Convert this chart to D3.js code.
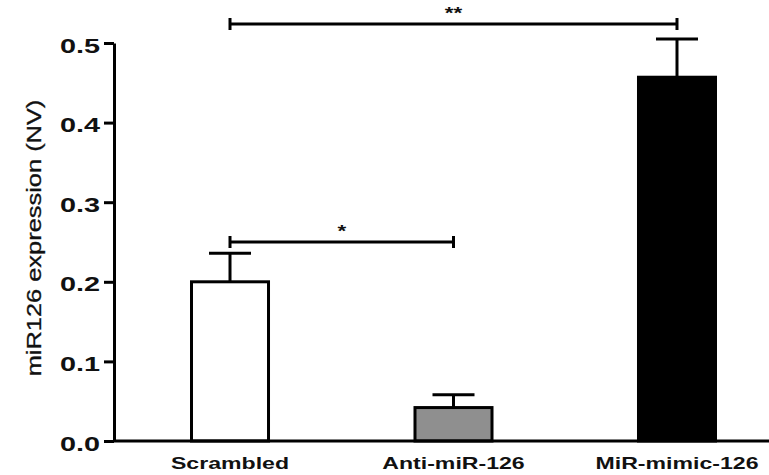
<!DOCTYPE html>
<html>
<head>
<meta charset="utf-8">
<script src="https://cdn.jsdelivr.net/npm/d3@7"></script>
<style>
    body { margin: 0; background: #fff; }
    svg text { font-family: "Liberation Sans", Arial, sans-serif; fill: #111; }
</style>
</head>
<body>
<div id="chart"></div>
<script>
'use strict';

// Werte
var groups = ["Scrambled", "Anti-miR-126", "MiR-mimic-126"];
var means = [0.200, 0.042, 0.457];
var errors = [0.036, 0.016, 0.048];
var yTicks = [0.0, 0.1, 0.2, 0.3, 0.4, 0.5];

// Signifikanz-Klammern
var sigFrom = ["Scrambled", "Scrambled"];
var sigTo = ["Anti-miR-126", "MiR-mimic-126"];
var sigLabel = ["*", "**"];
var sigLevel = [0.25, 0.524];

var width = 769,
    height = 475,
    axisX = 114,
    stroke = 3,
    stretch = 1.4; // Schrift ist in der Vorlage breit gezogen

var svg = d3.select("#chart")
    .append("svg")
    .attr("width", width)
    .attr("height", height);

var y = d3.scaleLinear()
    .domain([0, 0.5])
    .range([441, 43]);

var x = d3.scaleBand()
    .domain(groups)
    .range([190, 717])
    .paddingInner(0.642)
    .paddingOuter(0);

var color = d3.scaleOrdinal()
    .domain(groups)
    .range(["#ffffff", "#8f8f8f", "#000000"]);

var data = groups.map(function (g, i) {
    return { group: g, mean: means[i], err: errors[i] };
});

// Fehlerbalken (nur nach oben)
var err = svg.append("g")
    .attr("stroke", "#000")
    .attr("stroke-width", stroke);

err.selectAll("line.stem")
    .data(data)
    .enter().append("line")
    .attr("class", "stem")
    .attr("x1", d => x(d.group) + x.bandwidth() / 2)
    .attr("x2", d => x(d.group) + x.bandwidth() / 2)
    .attr("y1", d => y(d.mean))
    .attr("y2", d => y(d.mean + d.err));

err.selectAll("line.cap")
    .data(data)
    .enter().append("line")
    .attr("class", "cap")
    .attr("x1", d => x(d.group) + x.bandwidth() / 2 - 21)
    .attr("x2", d => x(d.group) + x.bandwidth() / 2 + 21)
    .attr("y1", d => y(d.mean + d.err))
    .attr("y2", d => y(d.mean + d.err));

// Balken
svg.append("g")
    .selectAll("rect")
    .data(data)
    .enter().append("rect")
    .attr("x", d => x(d.group) + stroke / 2)
    .attr("y", d => y(d.mean))
    .attr("width", x.bandwidth() - stroke)
    .attr("height", d => y(0) - y(d.mean))
    .attr("fill", d => color(d.group))
    .attr("stroke", "#000")
    .attr("stroke-width", stroke);

// x-Achse (Grundlinie)
svg.append("line")
    .attr("x1", axisX)
    .attr("x2", width)
    .attr("y1", y(0))
    .attr("y2", y(0))
    .attr("stroke", "#000")
    .attr("stroke-width", stroke);

var xAxis = svg.append("g")
    .attr("transform", "translate(0," + y(0) + ")")
    .call(d3.axisBottom(x).tickSize(0));
xAxis.select(".domain").remove();
xAxis.selectAll("text")
    .attr("y", null)
    .attr("dy", null)
    .attr("transform", "translate(0,28) scale(" + stretch + ",1)")
    .style("font-size", "16.5px")
    .style("font-weight", "bold");

// y-Achse
var yAxis = svg.append("g")
    .attr("transform", "translate(" + axisX + ",0)")
    .call(d3.axisLeft(y).tickValues(yTicks).tickFormat(d3.format(".1f")).tickSize(10).tickSizeOuter(0));
yAxis.select(".domain")
    .attr("stroke-width", stroke);
yAxis.selectAll(".tick line")
    .attr("stroke-width", stroke);
yAxis.selectAll("text")
    .attr("x", null)
    .attr("dy", null)
    .attr("transform", "translate(-14,9) scale(1.48,1)")
    .style("font-size", "19.5px")
    .style("font-weight", "bold");

svg.append("text")
    .attr("transform", "translate(41," + (y(0.25) - 4) + ") rotate(-90) scale(1.27,1)")
    .attr("text-anchor", "middle")
    .style("font-size", "20px")
    .style("stroke", "#111")
    .style("stroke-width", 0.3)
    .text("miR126 expression (NV)");

// Signifikanz
var sig = svg.append("g")
    .selectAll("g")
    .data(sigLabel.map(function (s, i) {
        return { a: sigFrom[i], b: sigTo[i], label: s, level: sigLevel[i] };
    }))
    .enter().append("g");

var cx = g => x(g) + x.bandwidth() / 2;

sig.append("path")
    .attr("fill", "none")
    .attr("stroke", "#000")
    .attr("stroke-width", stroke)
    .attr("d", function (d) {
        var x0 = cx(d.a), x1 = cx(d.b), yy = y(d.level);
        return "M" + x0 + "," + (yy - 6) + "V" + (yy + 6) +
            "M" + x0 + "," + yy + "H" + x1 +
            "M" + x1 + "," + (yy - 6) + "V" + (yy + 6);
    });

sig.append("text")
    .attr("transform", d => "translate(" + (cx(d.a) + cx(d.b)) / 2 + "," + (y(d.level) - 5) + ") scale(" + stretch + ",1)")
    .attr("text-anchor", "middle")
    .style("font-size", "16px")
    .style("font-weight", "bold")
    .text(d => d.label);
</script>
</body>
</html>
